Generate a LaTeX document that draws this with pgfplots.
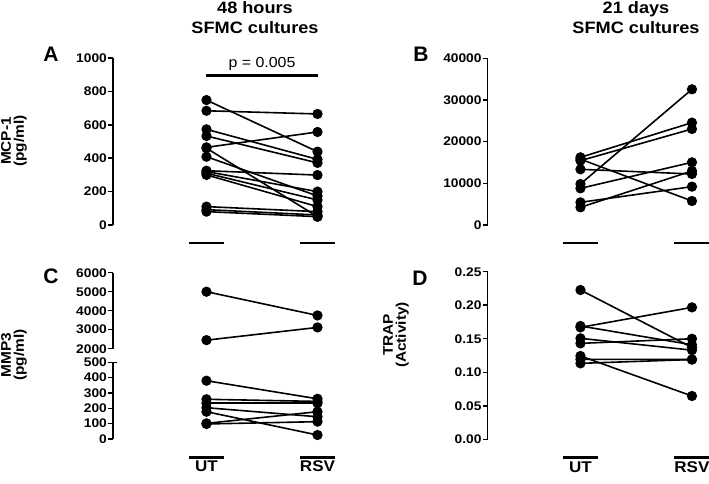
\documentclass[border=0pt]{standalone}
\usepackage{fontspec}
\setmainfont{Liberation Sans}[FakeStretch=1.1]
\newfontfamily\plainfont{Liberation Sans}
\usepackage{pgfplots}
\pgfplotsset{compat=1.18}
\pgfplotsset{
 panel/.style={
  scale only axis,
  axis x line=none,
  axis y line=left,
  axis line style={-, line width=1.5pt, black},
  tick align=outside,
  major tick length=5pt,
  ytick style={line width=1.5pt, black},
  tick label style={font=\fontsize{12.5}{12.5}\selectfont\bfseries},
  yticklabel style={inner xsep=1pt},
  /pgf/number format/assume math mode=true,
  /pgf/number format/1000 sep={},
  scaled y ticks=false,
  clip=false,
  cycle list={black,solid,line width=1.6pt,mark=*,mark size=4.3pt,mark options={solid,fill=black}\\},
 },
 leftp/.style={panel, xmin=0.158, xmax=2.3, width=237.8pt},
 rightp/.style={panel, xmin=0.168, xmax=2.3, width=237.7pt},
}
\newcommand{\catbars}[1]{%
 \draw[line width=2.7pt] (axis cs:0.842,#1) -- (axis cs:1.158,#1);
 \draw[line width=2.7pt] (axis cs:1.842,#1) -- (axis cs:2.158,#1);}
\newcommand{\catlabels}[1]{%
 \node[font=\fontsize{15.5}{15.5}\selectfont\bfseries] at (axis cs:1,#1) {UT};
 \node[font=\fontsize{15.5}{15.5}\selectfont\bfseries] at (axis cs:2,#1) {RSV};}
\begin{document}
\begin{tikzpicture}
\useasboundingbox (0pt,0pt) rectangle (709pt,483pt);
% titles
\node[anchor=base, font=\fontsize{16.5}{16.5}\selectfont\bfseries] at (255pt,469pt) {48 hours};
\node[anchor=base, font=\fontsize{16.5}{16.5}\selectfont\bfseries] at (255pt,449pt) {SFMC cultures};
\node[anchor=base, font=\fontsize{16.5}{16.5}\selectfont\bfseries] at (636pt,469pt) {21 days};
\node[anchor=base, font=\fontsize{16.5}{16.5}\selectfont\bfseries] at (636pt,449pt) {SFMC cultures};
% panel letters
\node[font=\plainfont\fontsize{21}{21}\selectfont\bfseries] at (51pt,429pt) {A};
\node[font=\plainfont\fontsize{21}{21}\selectfont\bfseries] at (421pt,429pt) {B};
\node[font=\plainfont\fontsize{21}{21}\selectfont\bfseries] at (51pt,207pt) {C};
\node[font=\plainfont\fontsize{21}{21}\selectfont\bfseries] at (420pt,205pt) {D};
% y labels
\node[rotate=90, align=center, font=\fontsize{14}{13}\selectfont\bfseries] at (14pt,342pt) {MCP-1\\(pg/ml)};
\node[rotate=90, align=center, font=\fontsize{14}{13}\selectfont\bfseries] at (14pt,128pt) {MMP3\\(pg/ml)};
\node[rotate=90, align=center, font=\fontsize{14}{13}\selectfont\bfseries] at (396pt,148pt) {TRAP\\(Activity)};

% Panel A
\begin{axis}[leftp, at={(113pt,258pt)}, anchor=south west, height=167pt,
  ymin=0, ymax=1000, ytick={0,200,400,600,800,1000}]
\addplot coordinates {(1,748) (2,439)};
\addplot coordinates {(1,684) (2,665)};
\addplot coordinates {(1,573) (2,393)};
\addplot coordinates {(1,533) (2,372)};
\addplot coordinates {(1,465) (2,557)};
\addplot coordinates {(1,460) (2,50)};
\addplot coordinates {(1,409) (2,174)};
\addplot coordinates {(1,325) (2,299)};
\addplot coordinates {(1,320) (2,200)};
\addplot coordinates {(1,310) (2,150)};
\addplot coordinates {(1,300) (2,110)};
\addplot coordinates {(1,110) (2,80)};
\addplot coordinates {(1,92) (2,60)};
\addplot coordinates {(1,80) (2,50)};
\catbars{-108}
\draw[line width=2.2pt] (axis cs:0.995,895) -- (axis cs:2.004,895);
\node[anchor=base, font=\fontsize{14.5}{14.5}\selectfont] at (axis cs:1.5,945) {p = 0.005};
\end{axis}

% Panel B
\begin{axis}[rightp, at={(487.7pt,258pt)}, anchor=south west, height=166.7pt,
  ymin=0, ymax=40000, ytick={0,10000,20000,30000,40000}]
\addplot coordinates {(1,9840) (2,32560)};
\addplot coordinates {(1,16240) (2,24560)};
\addplot coordinates {(1,15440) (2,23040)};
\addplot coordinates {(1,15800) (2,5760)};
\addplot coordinates {(1,13360) (2,12240)};
\addplot coordinates {(1,8800) (2,15040)};
\addplot coordinates {(1,5440) (2,9200)};
\addplot coordinates {(1,4240) (2,12960)};
\catbars{-4320}
\end{axis}

% Panel C top segment
\begin{axis}[leftp, at={(113pt,134.3pt)}, anchor=south west, height=76pt,
  ymin=2000, ymax=6000, ytick={2000,3000,4000,5000,6000}]
\addplot coordinates {(1,5000) (2,3750)};
\addplot coordinates {(1,2450) (2,3120)};
\end{axis}

% Panel C bottom segment
\begin{axis}[leftp, at={(113pt,44pt)}, anchor=south west, height=76.7pt,
  ymin=0, ymax=500, ytick={0,100,200,300,400,500}]
\addplot coordinates {(1,380) (2,262)};
\addplot coordinates {(1,259) (2,245)};
\addplot coordinates {(1,233) (2,233)};
\addplot coordinates {(1,204) (2,145)};
\addplot coordinates {(1,178) (2,26)};
\addplot coordinates {(1,102) (2,178)};
\addplot coordinates {(1,98) (2,113)};
\draw[line width=1.5pt] ([xshift=-0.75pt]axis cs:0.158,500) -- ([xshift=4pt]axis cs:0.158,500);
\catbars{-119}
\catlabels{-177}
\end{axis}

% Panel D
\begin{axis}[rightp, at={(487.7pt,43.7pt)}, anchor=south west, height=167.6pt,
  ymin=0, ymax=0.25, ytick={0,0.05,0.10,0.15,0.20,0.25},
  yticklabel style={/pgf/number format/.cd, fixed, fixed zerofill, precision=2}]
\addplot coordinates {(1,0.2227) (2,0.137)};
\addplot coordinates {(1,0.167) (2,0.1968)};
\addplot coordinates {(1,0.169) (2,0.141)};
\addplot coordinates {(1,0.1506) (2,0.133)};
\addplot coordinates {(1,0.1431) (2,0.150)};
\addplot coordinates {(1,0.1243) (2,0.0646)};
\addplot coordinates {(1,0.1193) (2,0.119)};
\addplot coordinates {(1,0.1133) (2,0.119)};
\catbars{-0.0268}
\catlabels{-0.0418}
\end{axis}
\end{tikzpicture}
\end{document}
